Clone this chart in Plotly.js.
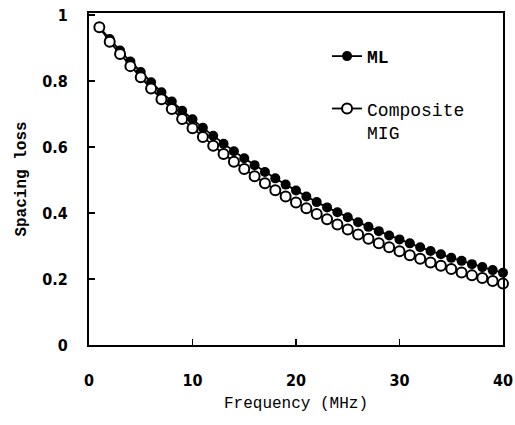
<!DOCTYPE html>
<html>
<head>
<meta charset="utf-8">
<script src="https://cdn.plot.ly/plotly-3.0.1.min.js"></script>
<style>html,body{margin:0;padding:0;background:#fff;}#chart{width:515px;height:425px;}</style>
</head>
<body>
<div id="chart"></div>
<script>
const frequency = [1,2,3,4,5,6,7,8,9,10,11,12,13,14,15,16,17,18,19,20,21,22,23,24,25,26,27,28,29,30,31,32,33,34,35,36,37,38,39,40];
const mlLoss = [0.963,0.927,0.892,0.859,0.827,0.796,0.766,0.738,0.710,0.684,0.658,0.634,0.610,0.587,0.566,0.545,0.524,0.505,0.486,0.468,0.450,0.433,0.417,0.402,0.387,0.372,0.358,0.345,0.332,0.320,0.308,0.296,0.285,0.275,0.264,0.255,0.245,0.236,0.227,0.219];
const compositeLoss = [0.963,0.919,0.882,0.845,0.811,0.777,0.745,0.715,0.685,0.657,0.630,0.604,0.579,0.555,0.533,0.511,0.490,0.469,0.450,0.432,0.414,0.397,0.381,0.365,0.350,0.335,0.322,0.308,0.296,0.284,0.272,0.261,0.250,0.240,0.230,0.220,0.211,0.203,0.194,0.186];
const xTicks = [0,10,20,30,40];
const yTicks = [0,0.2,0.4,0.6,0.8,1];
const yTickText = ['0','0.2','0.4','0.6','0.8','1'];

const traces = [
  {x: frequency, y: mlLoss, name: '<b>ML</b>', type: 'scatter', mode: 'lines+markers', legendgroup: 'a',
   line: {color: '#000', width: 1.8}, marker: {symbol: 'circle', size: 10, color: '#000'}, cliponaxis: false},
  {x: frequency, y: compositeLoss, name: 'Composite<br>MIG', type: 'scatter', mode: 'lines+markers', legendgroup: 'b',
   line: {color: '#000', width: 1.8}, marker: {symbol: 'circle', size: 10, color: '#fff', line: {color: '#000', width: 2}}, cliponaxis: false}
];

const layout = {
  width: 515, height: 425,
  margin: {l: 89, r: 12, t: 13, b: 80},
  paper_bgcolor: '#fff', plot_bgcolor: '#fff',
  showlegend: true,
  legend: {x: 0.575, y: 0.925, xanchor: 'left', yanchor: 'top', bgcolor: 'rgba(0,0,0,0)',
    font: {family: 'Liberation Mono', size: 18, color: '#000'}, traceorder: 'grouped', tracegroupgap: 26, valign: 'top'},
  xaxis: {
    range: [0, 40], tickvals: xTicks, ticktext: xTicks.map(String),
    ticks: 'inside', ticklen: 6, tickwidth: 1.5, tickcolor: '#000',
    showline: true, linecolor: '#000', linewidth: 2, mirror: true,
    showgrid: false, zeroline: false, ticklabelstandoff: 20,
    tickfont: {family: 'DejaVu Sans Condensed', size: 16, weight: 'bold', color: '#000'},
    title: {text: 'Frequency (MHz)', standoff: 8, font: {family: 'Liberation Mono', size: 16, color: '#000'}}
  },
  yaxis: {
    range: [0, 1.006], tickvals: yTicks, ticktext: yTickText,
    ticks: 'inside', ticklen: 6, tickwidth: 1.5, tickcolor: '#000',
    showline: true, linecolor: '#000', linewidth: 2, mirror: true,
    showgrid: false, zeroline: false, ticklabelstandoff: 16,
    tickfont: {family: 'DejaVu Sans Condensed', size: 16, weight: 'bold', color: '#000'},
    title: {text: 'Spacing loss', standoff: 12, font: {family: 'Liberation Mono', size: 16, weight: 'bold', color: '#000'}}
  }
};

Plotly.newPlot('chart', traces, layout, {displayModeBar: false, staticPlot: true});
</script>
</body>
</html>
